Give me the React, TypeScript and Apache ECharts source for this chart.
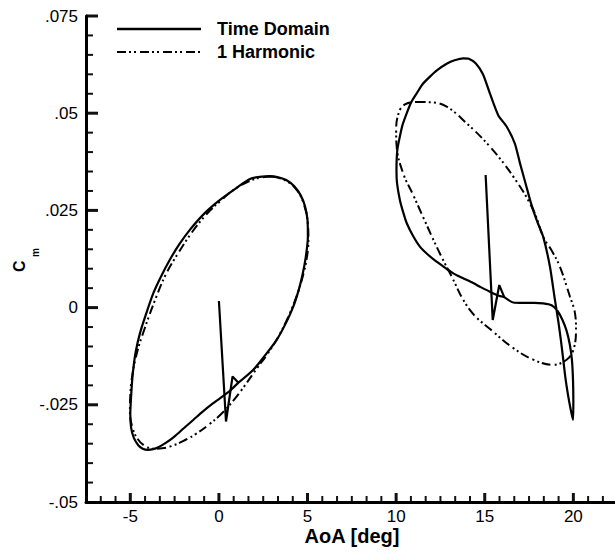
import React, { useEffect, useRef } from "react";
import * as echarts from "echarts";

const FONT = '"Liberation Sans", Arial, Helvetica, sans-serif';

// Axis extents and ticks
const X_MIN = -7.5;
const X_MAX = 22.35;
const xTickValues = [-5, 0, 5, 10, 15, 20];
const Y_MIN = -0.05;
const Y_MAX = 0.075;
const Y_STEP = 0.025;
const yTickValues = [-0.05, -0.025, 0, 0.025, 0.05, 0.075];
const yTickLabels = ["-.05", "-.025", "0", ".025", ".05", ".075"];

// Minor ticks: six subdivisions between AoA labels, five between Cm labels
const xMinorTicks: number[] = [];
for (let major = -10; major < 25; major += 5) {
  for (let k = 1; k < 6; k++) {
    const v = major + (k * 5) / 6;
    if (v > X_MIN && v < X_MAX) xMinorTicks.push(v);
  }
}
const yMinorTicks: number[] = [];
for (let i = 0; i < yTickValues.length - 1; i++) {
  for (let k = 1; k < 5; k++) yMinorTicks.push(yTickValues[i] + (k * Y_STEP) / 5);
}

// Time-domain response, mean AoA 0 deg: start-up transient, then the periodic loop
const tdLeftTransient: number[][] = [
  [0.0, 0.0017], [0.4, -0.0293], [0.77, -0.0177], [1.1, -0.0193],
];
const tdLeftLoop: number[][] = [
  [1.1, -0.0193], [1.94, -0.016], [2.6, -0.0123], [3.26, -0.0083], [3.8, -0.0038],
  [4.2, 0.0003], [4.5, 0.0045], [4.72, 0.0085], [4.9, 0.013], [5.02, 0.0183],
  [5.0, 0.0225], [4.85, 0.0262], [4.6, 0.029], [4.25, 0.0312], [3.8, 0.0328],
  [3.3, 0.0336], [2.85, 0.0338], [2.3, 0.0336], [1.75, 0.0331], [1.0, 0.0308],
  [0.06, 0.0277], [-0.8, 0.0243], [-1.64, 0.02], [-2.25, 0.0162], [-2.77, 0.0123],
  [-3.3, 0.0077], [-3.7, 0.0037], [-4.1, -0.0015], [-4.45, -0.0065], [-4.7, -0.0115],
  [-4.86, -0.017], [-4.95, -0.0225], [-5.0, -0.0275], [-4.95, -0.031], [-4.8, -0.0335],
  [-4.55, -0.0354], [-4.3, -0.0363], [-4.0, -0.0366], [-3.7, -0.0364], [-3.45, -0.036],
  [-3.0, -0.0348], [-2.55, -0.0333], [-2.0, -0.0311], [-1.45, -0.0289], [-0.9, -0.0267],
  [-0.32, -0.0246], [0.3, -0.0225], [0.62, -0.0214], [1.1, -0.0193],
];

// First-harmonic reconstruction, mean AoA 0 deg
const h1Left: number[][] = [
  [3.0, 0.0337], [3.8, 0.0326], [4.4, 0.0302], [4.8, 0.0265], [5.02, 0.0215],
  [5.05, 0.0175], [4.95, 0.0125], [4.7, 0.0075], [4.35, 0.0025], [3.9, -0.0025],
  [3.35, -0.0075], [2.7, -0.0122], [2.13, -0.0157], [1.5, -0.0198], [0.8, -0.024],
  [0.1, -0.0275], [-0.6, -0.0302], [-1.3, -0.0325], [-2.0, -0.0343], [-2.6, -0.0355],
  [-3.2, -0.0362], [-3.7, -0.0363], [-4.2, -0.0355], [-4.6, -0.0337], [-4.88, -0.0308],
  [-5.02, -0.027], [-5.0, -0.0225], [-4.88, -0.0172], [-4.6, -0.0112], [-4.2, -0.0055],
  [-3.6, 0.002], [-3.0, 0.0085], [-2.3, 0.014], [-1.5, 0.0195], [-0.7, 0.024],
  [0.1, 0.0275], [0.9, 0.0305], [1.7, 0.0325], [2.4, 0.0335], [3.0, 0.0337],
];

// Time-domain response, mean AoA 15 deg
const tdRightTransient: number[][] = [
  [15.05, 0.0341], [15.45, -0.0032], [15.82, 0.0058], [16.1, 0.0027],
];
const tdRightLoop: number[][] = [
  [16.1, 0.0027], [16.61, 0.0013], [17.2, 0.0012], [17.8, 0.0012], [18.3, 0.0011],
  [18.77, 0.0006], [19.1, -0.0008], [19.4, -0.0033], [19.62, -0.006], [19.8, -0.0095],
  [19.92, -0.0135], [19.98, -0.0186], [20.0, -0.024], [19.98, -0.0289], [19.85, -0.0262],
  [19.7, -0.0225], [19.55, -0.018], [19.43, -0.0134], [19.3, -0.0085], [19.15, -0.0035],
  [18.96, 0.002], [18.68, 0.0105], [18.3, 0.0182], [17.93, 0.0225], [17.6, 0.027],
  [17.3, 0.032], [16.99, 0.0371], [16.7, 0.0422], [16.24, 0.0465], [15.76, 0.0495],
  [15.29, 0.0551], [14.9, 0.06], [14.5, 0.0628], [14.1, 0.064], [13.79, 0.0641],
  [13.3, 0.0636], [12.85, 0.0627], [12.3, 0.061], [11.91, 0.0594], [11.5, 0.0575],
  [11.16, 0.0551], [10.85, 0.0528], [10.6, 0.05], [10.35, 0.0468], [10.21, 0.044],
  [10.08, 0.041], [10.03, 0.038], [10.02, 0.035], [10.05, 0.032], [10.21, 0.0277],
  [10.4, 0.0245], [10.6, 0.0217], [10.95, 0.0185], [11.34, 0.0157], [11.8, 0.0136],
  [12.28, 0.0118], [12.75, 0.0103], [13.22, 0.0088], [13.8, 0.0075], [14.35, 0.0063],
  [14.8, 0.0052], [15.29, 0.0041], [15.75, 0.0031], [16.1, 0.0027],
];

// First-harmonic reconstruction, mean AoA 15 deg
const h1Right: number[][] = [
  [11.16, 0.0529], [12.0, 0.0528], [12.85, 0.0517], [13.98, 0.0474], [15.29, 0.0414],
  [16.61, 0.0337], [17.74, 0.0251], [18.3, 0.0182], [18.8, 0.0145], [19.24, 0.0105],
  [19.81, 0.0028], [20.09, -0.0014], [20.15, -0.0057], [20.0, -0.0109], [19.62, -0.0134],
  [18.86, -0.0147], [17.74, -0.0134], [16.61, -0.0104], [15.48, -0.0062], [14.16, -0.0006],
  [13.04, 0.0088], [12.28, 0.0157], [11.6, 0.0225], [10.96, 0.029], [10.4, 0.0345],
  [10.03, 0.0414], [10.0, 0.0457], [10.21, 0.0508], [10.6, 0.0525], [11.16, 0.0529],
];

const TD_NAME = "Time Domain";
const H1_NAME = "1 Harmonic";
const X_TITLE = "AoA [deg]";
const DASH_DOT_DOT = [9, 3, 2, 3, 2, 4];
const INK = "#111111";

export default function App() {
  const ref = useRef<HTMLDivElement>(null);

  useEffect(() => {
    if (!ref.current) return;
    const chart = echarts.init(ref.current, undefined, { renderer: "svg" });

    const solid = { color: "#000", width: 2.2, type: "solid" as const };
    const dashDotDot = { color: "#000", width: 2, type: DASH_DOT_DOT };

    const lineSeries = (name: string, data: number[][], lineStyle: any, smooth: number | boolean) => ({
      type: "line",
      name,
      data,
      symbol: "none",
      showSymbol: false,
      smooth,
      lineStyle,
      itemStyle: { color: "#000" },
      emphasis: { disabled: true },
      z: 3,
    });

    const legendRow = (id: string, y: number, label: string, dash: number[] | null, width: number) => [
      {
        id: id + "-line",
        type: "line",
        silent: true,
        shape: { x1: 117, y1: y, x2: 201, y2: y },
        style: { stroke: "#000", lineWidth: width, lineDash: dash || undefined },
      },
      {
        id: id + "-text",
        type: "text",
        silent: true,
        x: 217,
        y,
        style: {
          text: label,
          font: `bold 18px ${FONT}`,
          fill: "#000",
          textAlign: "left",
          textVerticalAlign: "middle",
        },
      },
    ];

    const baseGraphics: any[] = [
      ...legendRow("td", 29, TD_NAME, null, 2.4),
      ...legendRow("h1", 52, H1_NAME, DASH_DOT_DOT, 2),
      {
        id: "x-title",
        type: "text",
        silent: true,
        x: 352,
        y: 536,
        style: {
          text: X_TITLE,
          font: `bold 20px ${FONT}`,
          fill: "#000",
          textAlign: "center",
          textVerticalAlign: "middle",
        },
      },
      {
        id: "cm-title",
        type: "group",
        x: 25,
        y: 272,
        rotation: Math.PI / 2,
        silent: true,
        children: [
          {
            type: "text",
            x: 0,
            y: -6,
            style: {
              text: "C",
              font: `bold 16px ${FONT}`,
              fill: "#000",
              textAlign: "left",
              textVerticalAlign: "middle",
            },
          },
          {
            type: "text",
            x: 15,
            y: 10,
            style: {
              text: "m",
              font: `bold 10px ${FONT}`,
              fill: "#000",
              textAlign: "left",
              textVerticalAlign: "middle",
            },
          },
        ],
      },
    ];

    const option: any = {
      animation: false,
      backgroundColor: "#ffffff",
      grid: { left: 86, right: 0, top: 16, bottom: 50 },
      xAxis: {
        type: "value",
        min: X_MIN,
        max: X_MAX,
        axisLine: { show: true, onZero: false, lineStyle: { color: "#000", width: 3 } },
        axisTick: { show: false },
        axisLabel: {
          customValues: xTickValues,
          margin: 6,
          fontFamily: FONT,
          fontSize: 17,
          color: "#000",
        },
        splitLine: { show: false },
      },
      yAxis: {
        type: "value",
        min: Y_MIN,
        max: Y_MAX,
        interval: Y_STEP,
        axisLine: { show: true, onZero: false, lineStyle: { color: "#000", width: 3 } },
        axisTick: { show: false },
        minorTick: { show: false },
        axisLabel: {
          margin: 8,
          fontFamily: FONT,
          fontSize: 17,
          color: "#000",
          formatter: (v: number) => {
            let best = 0;
            yTickValues.forEach((t, i) => {
              if (Math.abs(t - v) < Math.abs(yTickValues[best] - v)) best = i;
            });
            return yTickLabels[best];
          },
        },
        splitLine: { show: false },
      },
      graphic: baseGraphics,
      series: [
        lineSeries(TD_NAME, tdLeftTransient, solid, false),
        lineSeries(TD_NAME, tdLeftLoop, solid, 0.3),
        lineSeries(TD_NAME, tdRightTransient, solid, false),
        lineSeries(TD_NAME, tdRightLoop, solid, 0.2),
        lineSeries(H1_NAME, h1Left, dashDotDot, 0.4),
        lineSeries(H1_NAME, h1Right, dashDotDot, 0.4),
      ],
    };

    chart.setOption(option);

    // Tick marks pointing into the plot, positioned through the axes' scales
    const tickMarks: any[] = [];
    const addTicks = (values: number[], dim: "x" | "y", len: number, width: number, tag: string) => {
      values.forEach((v, i) => {
        const p = chart.convertToPixel({ gridIndex: 0 }, dim === "x" ? [v, Y_MIN] : [X_MIN, v]) as number[];
        if (!p || !isFinite(p[0]) || !isFinite(p[1])) return;
        const shape =
          dim === "x"
            ? { x: p[0] - width / 2, y: p[1] - len, width, height: len }
            : { x: p[0], y: p[1] - width / 2, width: len, height: width };
        tickMarks.push({
          id: `${tag}-${i}`,
          type: "rect",
          silent: true,
          shape,
          style: { fill: INK },
        });
      });
    };
    addTicks(xTickValues, "x", 9, 3, "xmaj");
    addTicks(xMinorTicks, "x", 6, 2, "xmin");
    addTicks(yTickValues.slice(1), "y", 12, 3, "ymaj");
    addTicks(yMinorTicks, "y", 7, 2, "ymin");

    chart.setOption({ graphic: [...baseGraphics, ...tickMarks] });

    return () => chart.dispose();
  }, []);

  return (
    <div
      ref={ref}
      style={{ position: "fixed", left: 0, top: 0, width: 615, height: 552, background: "#fff" }}
    />
  );
}
